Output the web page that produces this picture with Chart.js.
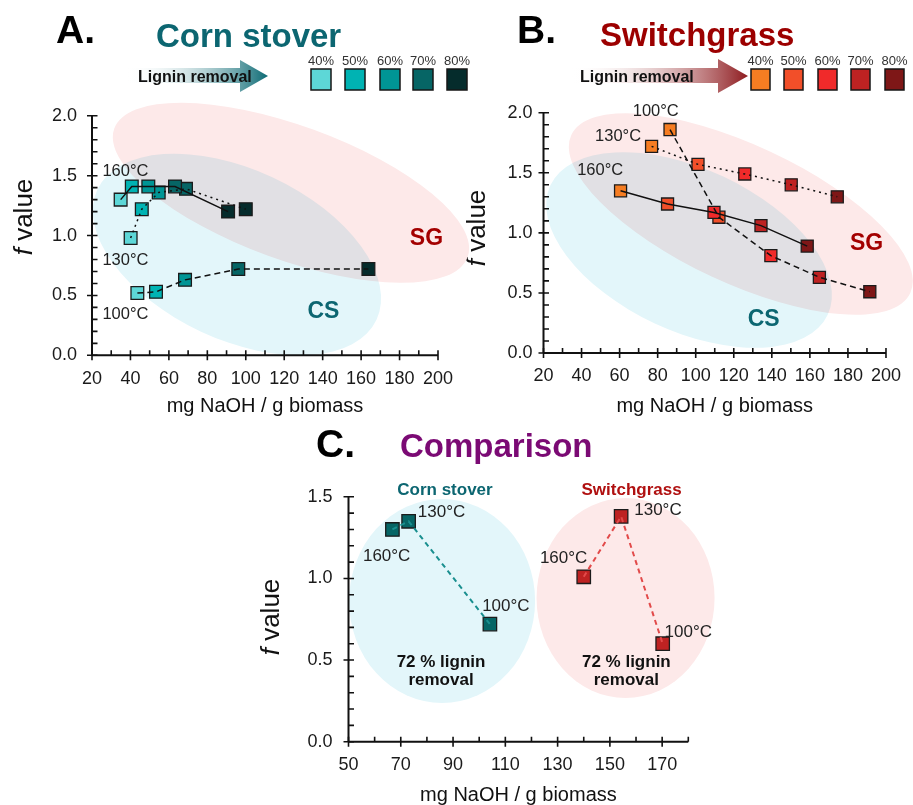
<!DOCTYPE html>
<html>
<head>
<meta charset="utf-8">
<script src="https://cdn.jsdelivr.net/npm/chart.js@4.4.0/dist/chart.umd.min.js"></script>
<style>
  html, body { margin: 0; padding: 0; background: #fff; }
  body { width: 913px; height: 805px; position: relative; overflow: hidden; }
  canvas { position: absolute; }
  #deco { left: 0; top: 0; }
  #chartA { left: 0; top: 90px; }
  #chartB { left: 470px; top: 90px; }
  #chartC { left: 240px; top: 470px; }
</style>
</head>
<body>
<canvas id="deco" width="913" height="805"></canvas>
<canvas id="chartA" width="470" height="340"></canvas>
<canvas id="chartB" width="443" height="340"></canvas>
<canvas id="chartC" width="480" height="335"></canvas>
<script>
// ══════════════════════════════
//  DATA
// ══════════════════════════════
const ligninLevels = ['40%', '50%', '60%', '70%', '80%'];
const csColors = ['#5dd7d7', '#00b3b3', '#009595', '#066565', '#052c2c'];
const sgColors = ['#f67d22', '#f24f29', '#f02a2a', '#be2222', '#7e1717'];

// A. corn stover (mg NaOH / g biomass, f value)
const csNaoh160 = [34.9, 40.7, 49.3, 63.2, 90.8];
const csF160    = [1.30, 1.41, 1.41, 1.41, 1.20];
const csNaoh130 = [40.1, 45.9, 54.7, 68.9, 100.0];
const csF130    = [0.98, 1.22, 1.36, 1.39, 1.22];
const csNaoh100 = [43.6, 53.3, 68.4, 96.1, 163.8];
const csF100    = [0.52, 0.53, 0.63, 0.72, 0.72];

// B. switchgrass
const sgNaoh160 = [60.5, 85.2, 109.6, 134.3, 158.6];
const sgF160    = [1.35, 1.24, 1.17, 1.06, 0.89];
const sgNaoh130 = [76.8, 101.2, 125.8, 150.2, 174.4];
const sgF130    = [1.72, 1.57, 1.49, 1.40, 1.30];
const sgNaoh100 = [86.5, 112.2, 139.5, 165.0, 191.5];
const sgF100    = [1.86, 1.13, 0.81, 0.63, 0.51];

// C. comparison at 72 % lignin removal (160, 130, 100 °C)
const cmpCsNaoh = [66.8, 73.0, 104.1];
const cmpCsF    = [1.30, 1.35, 0.72];
const cmpSgNaoh = [140.0, 154.3, 170.2];
const cmpSgF    = [1.01, 1.38, 0.60];

// tick labels
const xTicksAB = [20, 40, 60, 80, 100, 120, 140, 160, 180, 200];
const yTicksAB = [0, 0.5, 1.0, 1.5, 2.0];
const xTicksC  = [50, 70, 90, 110, 130, 150, 170];
const yTicksC  = [0, 0.5, 1.0, 1.5];

const FONT = '"Liberation Sans", Arial, Helvetica, sans-serif';
Chart.defaults.font.family = FONT;

const PINK = '#fde9e9';
const BLUE = '#e3f6fa';
const CS_TXT = '#0c6671';
const SG_TXT = '#a30000';


// ══════════════════════════════
//  HEADERS / LEGENDS (plain canvas)
// ══════════════════════════════
const dc = document.getElementById('deco').getContext('2d');
dc.fillStyle = '#fff';
dc.fillRect(0, 0, 913, 805);

function txt(s, x, y, font, color, align) {
  dc.font = font;
  dc.fillStyle = color;
  dc.textAlign = align || 'left';
  dc.textBaseline = 'alphabetic';
  dc.fillText(s, x, y);
}

function arrow(x0, xb, xt, yTop, yBot, hTop, hBot, color) {
  const g = dc.createLinearGradient(x0, 0, xt, 0);
  g.addColorStop(0, 'rgba(255,255,255,0)');
  g.addColorStop(1, color);
  dc.fillStyle = g;
  dc.beginPath();
  dc.moveTo(x0, yTop);
  dc.lineTo(xb, yTop);
  dc.lineTo(xb, hTop);
  dc.lineTo(xt, (hTop + hBot) / 2);
  dc.lineTo(xb, hBot);
  dc.lineTo(xb, yBot);
  dc.lineTo(x0, yBot);
  dc.closePath();
  dc.fill();
}

function legendRow(lefts, w, colors) {
  ligninLevels.forEach((lab, i) => {
    dc.fillStyle = colors[i];
    dc.fillRect(lefts[i], 69, w, 21);
    dc.strokeStyle = '#161616';
    dc.lineWidth = 1.5;
    dc.strokeRect(lefts[i], 69, w, 21);
    txt(lab, lefts[i] + w / 2, 65, '13px ' + FONT, '#333', 'center');
  });
}

function yTitle(x, y) {
  dc.save();
  dc.translate(x, y);
  dc.rotate(-Math.PI / 2);
  dc.fillStyle = '#111';
  dc.textBaseline = 'middle';
  dc.textAlign = 'left';
  dc.font = 'italic 26px ' + FONT;
  const w1 = dc.measureText('f').width;
  dc.font = '26px ' + FONT;
  const w2 = dc.measureText(' value').width;
  const start = -(w1 + w2) / 2;
  dc.font = 'italic 26px ' + FONT;
  dc.fillText('f', start, 0);
  dc.font = '26px ' + FONT;
  dc.fillText(' value', start + w1, 0);
  dc.restore();
}

// A
txt('A.', 56, 43, 'bold 39px ' + FONT, '#000');
txt('Corn stover', 156, 47, 'bold 33px ' + FONT, CS_TXT);
arrow(125, 240, 268, 68, 83, 60, 92, '#0c6a74');
txt('Lignin removal', 138, 82, 'bold 16px ' + FONT, '#111');
legendRow([311, 345, 380, 413, 447], 20, csColors);
yTitle(25, 217);

// B
txt('B.', 517, 43, 'bold 39px ' + FONT, '#000');
txt('Switchgrass', 600, 46, 'bold 33px ' + FONT, '#9c0000');
arrow(570, 718, 748, 68, 83, 59, 93, '#8e1b1f');
txt('Lignin removal', 580, 82, 'bold 16px ' + FONT, '#111');
legendRow([751, 784, 818, 851, 885], 19, sgColors);
yTitle(478, 228);

// C
txt('C.', 316, 457, 'bold 39px ' + FONT, '#000');
txt('Comparison', 400, 457, 'bold 33px ' + FONT, '#7b0a74');
yTitle(272, 617);


// ══════════════════════════════
//  PLUGIN: ellipses, axes, notes
// ══════════════════════════════
const decoPlugin = {
  id: 'deco',
  beforeDatasetsDraw(chart, args, opts) {
    const { ctx, chartArea: a, scales: { x, y } } = chart;
    ctx.save();
    (opts.ellipses || []).forEach((e, i) => {
      ctx.globalCompositeOperation = i ? 'multiply' : 'source-over';
      ctx.beginPath();
      ctx.ellipse(x.getPixelForValue(e.cx), y.getPixelForValue(e.cy),
        e.rx, e.ry, e.rot * Math.PI / 180, 0, 2 * Math.PI);
      ctx.fillStyle = e.color;
      ctx.fill();
    });
    ctx.restore();

    // axis lines + major/minor ticks
    ctx.save();
    ctx.strokeStyle = '#111';
    ctx.lineWidth = 2;
    ctx.beginPath();
    ctx.moveTo(a.left, a.bottom);
    ctx.lineTo(a.right, a.bottom);
    ctx.moveTo(a.left, a.bottom);
    ctx.lineTo(a.left, a.top);
    ctx.stroke();

    ctx.lineWidth = 1.6;
    ctx.beginPath();
    const nx = Math.round((x.max - x.min) / opts.xMinor);
    for (let i = 0; i <= nx; i++) {
      const v = x.min + i * opts.xMinor;
      const px = x.getPixelForValue(v);
      const major = x.ticks.some(t => Math.abs(t.value - v) < 1e-6);
      ctx.moveTo(px, a.bottom + (major ? 5 : 0));
      ctx.lineTo(px, a.bottom - 5);
    }
    const ny = Math.round((y.max - y.min) / opts.yMinor);
    for (let i = 0; i <= ny; i++) {
      const v = y.min + i * opts.yMinor;
      const py = y.getPixelForValue(v);
      const major = y.ticks.some(t => Math.abs(t.value - v) < 1e-6);
      ctx.moveTo(a.left - (major ? 5 : 0), py);
      ctx.lineTo(a.left + 5.5, py);
    }
    ctx.stroke();
    ctx.restore();
  },
  afterDatasetsDraw(chart, args, opts) {
    const { ctx, scales: { x, y } } = chart;
    ctx.save();
    ctx.textAlign = 'center';
    ctx.textBaseline = 'middle';
    (opts.notes || []).forEach(n => {
      ctx.font = n.font || ('16.5px ' + FONT);
      ctx.fillStyle = n.color || '#222';
      ctx.fillText(n.t, x.getPixelForValue(n.x), y.getPixelForValue(n.y));
    });
    ctx.restore();
  }
};


// ══════════════════════════════
//  CHART BUILDERS
// ══════════════════════════════
function pts(xs, ys) {
  return xs.map((v, i) => ({ x: v, y: ys[i] }));
}

function series(xs, ys, colors, dash, lineColor, lineWidth, r) {
  return [
    {
      data: pts(xs, ys),
      showLine: false,
      pointStyle: 'rect',
      pointRadius: r,
      pointHoverRadius: r,
      pointBackgroundColor: colors,
      pointBorderColor: '#1b1b1b',
      pointBorderWidth: 1.3,
      order: 2,
    },
    {
      data: pts(xs, ys),
      showLine: true,
      pointRadius: 0,
      pointHoverRadius: 0,
      borderColor: lineColor,
      borderWidth: lineWidth,
      borderDash: dash,
      tension: 0,
      fill: false,
      order: 1,
    },
  ];
}

function makeChart(id, datasets, xr, yr, xTicks, yTicks, lay, deco) {
  return new Chart(document.getElementById(id), {
    type: 'scatter',
    data: { datasets },
    plugins: [decoPlugin],
    options: {
      responsive: false,
      animation: false,
      devicePixelRatio: 1,
      events: [],
      layout: { padding: { top: lay.top, right: lay.right, left: 0, bottom: 0 } },
      plugins: {
        legend: { display: false },
        tooltip: { enabled: false },
        deco,
      },
      scales: {
        x: {
          type: 'linear',
          min: xr[0],
          max: xr[1],
          afterBuildTicks: (ax) => { ax.ticks = xTicks.map(v => ({ value: v })); },
          afterFit: (s) => { s.height = lay.xh; },
          grid: { display: false, drawTicks: false },
          border: { display: false },
          ticks: {
            color: '#1a1a1a',
            font: { size: 18 },
            padding: lay.xpad,
            autoSkip: false,
            maxRotation: 0,
            callback: (v) => String(v),
          },
          title: {
            display: true,
            text: 'mg NaOH / g biomass',
            color: '#111',
            font: { size: 20, lineHeight: 1 },
            padding: { top: 0, bottom: lay.tpad },
          },
        },
        y: {
          type: 'linear',
          min: yr[0],
          max: yr[1],
          afterBuildTicks: (ax) => { ax.ticks = yTicks.map(v => ({ value: v })); },
          afterFit: (s) => { s.width = lay.yw; },
          grid: { display: false, drawTicks: false },
          border: { display: false },
          ticks: {
            color: '#1a1a1a',
            font: { size: 18 },
            padding: lay.ypad,
            callback: (v) => v.toFixed(1),
          },
        },
      },
    },
  });
}

const noteFontBold = 'bold 23px ' + FONT;

// ══════════════════════════════
//  A. CORN STOVER
// ══════════════════════════════
makeChart('chartA', [
  ...series(csNaoh160, csF160, csColors, [], '#111', 1.5, 9),
  ...series(csNaoh130, csF130, csColors, [2, 4], '#111', 1.5, 9),
  ...series(csNaoh100, csF100, csColors, [6, 4], '#111', 1.5, 9),
], [20, 200], [0, 2], xTicksAB, yTicksAB,
  { top: 17.5, right: 32, yw: 92, xh: 74.7, xpad: 13, ypad: 15, tpad: 14 },
  {
    xMinor: 10, yMinor: 0.1,
    ellipses: [
      { cx: 123.5, cy: 1.357, rx: 188, ry: 67, rot: 20, color: PINK },
      { cx: 95.4, cy: 0.841, rx: 154, ry: 85, rot: 25, color: BLUE },
    ],
    notes: [
      { t: '160°C', x: 37.4, y: 1.535 },
      { t: '130°C', x: 37.4, y: 0.795 },
      { t: '100°C', x: 37.4, y: 0.341 },
      { t: 'SG', x: 194.0, y: 0.97, font: noteFontBold, color: SG_TXT },
      { t: 'CS', x: 140.4, y: 0.365, font: noteFontBold, color: CS_TXT },
    ],
  });

// ══════════════════════════════
//  B. SWITCHGRASS
// ══════════════════════════════
makeChart('chartB', [
  ...series(sgNaoh160, sgF160, sgColors, [], '#111', 1.5, 8.5),
  ...series(sgNaoh130, sgF130, sgColors, [2, 4], '#111', 1.5, 8.5),
  ...series(sgNaoh100, sgF100, sgColors, [6, 4], '#111', 1.5, 8.5),
], [20, 200], [0, 2], xTicksAB, yTicksAB,
  { top: 22.7, right: 25, yw: 73.5, xh: 77, xpad: 12, ypad: 11, tpad: 14 },
  {
    xMinor: 10, yMinor: 0.1,
    ellipses: [
      { cx: 123.7, cy: 1.157, rx: 187, ry: 69, rot: 25, color: PINK },
      { cx: 96.5, cy: 0.857, rx: 153, ry: 81, rot: 25, color: BLUE },
    ],
    notes: [
      { t: '100°C', x: 79.0, y: 2.008 },
      { t: '130°C', x: 59.2, y: 1.80 },
      { t: '160°C', x: 49.8, y: 1.523 },
      { t: 'SG', x: 189.8, y: 0.907, font: noteFontBold, color: SG_TXT },
      { t: 'CS', x: 135.7, y: 0.275, font: noteFontBold, color: CS_TXT },
    ],
  });

// ══════════════════════════════
//  C. COMPARISON (72 % lignin removal)
// ══════════════════════════════
makeChart('chartC', [
  ...series(cmpCsNaoh, cmpCsF, csColors[3], [5, 4], '#1a8f8f', 2, 9.5),
  ...series(cmpSgNaoh, cmpSgF, sgColors[3], [5, 4], '#e24a4a', 2, 9.5),
], [50, 180], [0, 1.5], xTicksC, yTicksC,
  { top: 26.7, right: 31.7, yw: 108.5, xh: 63.3, xpad: 12.5, ypad: 16, tpad: 0 },
  {
    xMinor: 10, yMinor: 0.1,
    ellipses: [
      { cx: 85.8, cy: 0.862, rx: 93, ry: 102, rot: 0, color: BLUE },
      { cx: 156.0, cy: 0.880, rx: 89, ry: 100, rot: 0, color: PINK },
    ],
    notes: [
      { t: 'Corn stover', x: 86.9, y: 1.541, font: 'bold 17px ' + FONT, color: CS_TXT },
      { t: 'Switchgrass', x: 158.3, y: 1.541, font: 'bold 17px ' + FONT, color: '#b01010' },
      { t: '160°C', x: 64.6, y: 1.133, font: '17px ' + FONT },
      { t: '130°C', x: 85.6, y: 1.407, font: '17px ' + FONT },
      { t: '100°C', x: 110.2, y: 0.831, font: '17px ' + FONT },
      { t: '160°C', x: 132.3, y: 1.125, font: '17px ' + FONT },
      { t: '130°C', x: 168.4, y: 1.419, font: '17px ' + FONT },
      { t: '100°C', x: 180.0, y: 0.672, font: '17px ' + FONT },
      { t: '72 % lignin', x: 85.4, y: 0.484, font: 'bold 17px ' + FONT, color: '#111' },
      { t: 'removal', x: 85.4, y: 0.374, font: 'bold 17px ' + FONT, color: '#111' },
      { t: '72 % lignin', x: 156.3, y: 0.484, font: 'bold 17px ' + FONT, color: '#111' },
      { t: 'removal', x: 156.3, y: 0.374, font: 'bold 17px ' + FONT, color: '#111' },
    ],
  });
</script>
</body>
</html>
